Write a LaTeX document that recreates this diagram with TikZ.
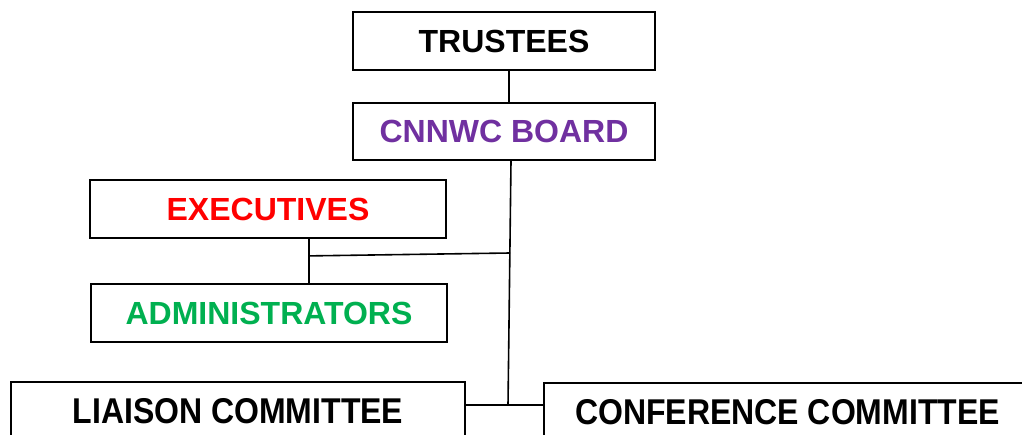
\documentclass[tikz,border=0pt]{standalone}
\usepackage{fontspec}
\usepackage{graphicx}
\setmainfont{Liberation Sans}
\definecolor{cpurple}{HTML}{7030A0}
\definecolor{cred}{HTML}{FF0000}
\definecolor{cgreen}{HTML}{00B050}
\begin{document}
\begin{tikzpicture}[x=1pt,y=-1pt,
  box/.style={draw=black,line width=1.8pt,fill=white,inner sep=0pt,
    font=\fontsize{32}{36}\selectfont\bfseries},
  conn/.style={draw=black,line width=1.6pt}]
\useasboundingbox (0,0) rectangle (1022,435);
\clip (0,0) rectangle (1022,435);
\node[box,minimum width=302pt,minimum height=58pt] (t) at (504,41) {TRUSTEES};
\node[box,minimum width=302pt,minimum height=57pt,text=cpurple] (b) at (504,131.5) {CNNWC BOARD};
\node[box,minimum width=356pt,minimum height=58pt,text=cred] (e) at (268,209) {EXECUTIVES};
\node[box,minimum width=356pt,minimum height=58pt,text=cgreen] (a) at (269,313) {ADMINISTRATORS};
\node[box,minimum width=454pt,minimum height=58pt] (l) at (238,411) {\scalebox{1}[1.12]{LIAISON COMMITTEE}};
\node[box,minimum width=487pt,minimum height=58pt] (c) at (787.5,412) {\scalebox{1}[1.12]{CONFERENCE COMMITTEE}};
\coordinate (jb) at (508,405);
\coordinate (ja) at (510.2,253);
\draw[conn] ([xshift=5pt]t.south) -- ([xshift=5pt]b.north);
\draw[conn] ([xshift=7pt]b.south) -- (jb);
\draw[conn] ([xshift=41pt]e.south) -- ([xshift=40pt]a.north);
\draw[conn] ([xshift=41pt,yshift=-17pt]e.south) -- (ja);
\draw[conn] ([yshift=6pt]l.east) -- ([yshift=7pt]c.west);
\end{tikzpicture}
\end{document}
